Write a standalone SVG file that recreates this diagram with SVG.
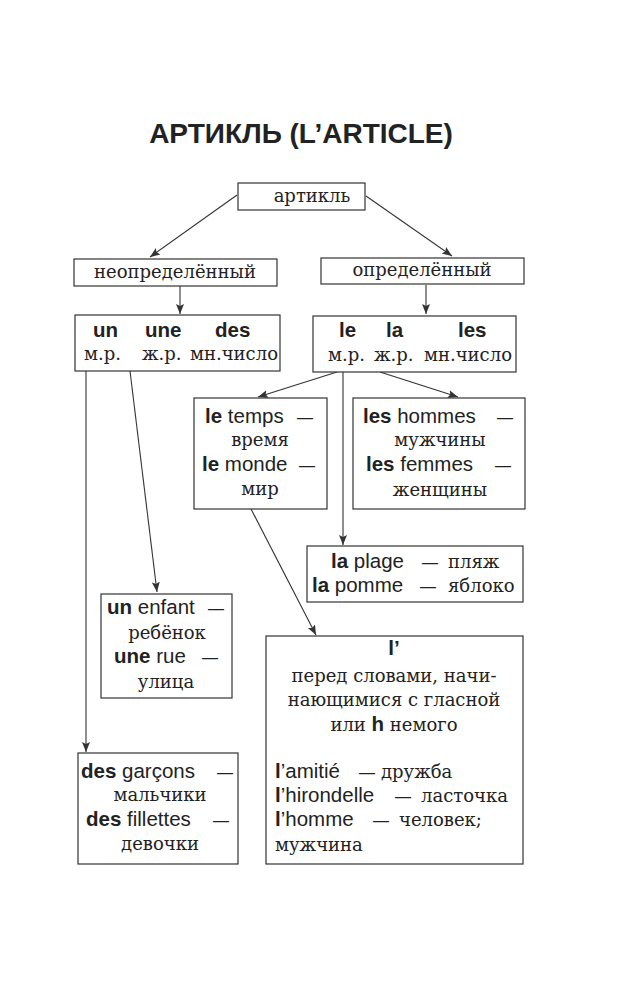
<svg xmlns="http://www.w3.org/2000/svg" width="618" height="1000" viewBox="0 0 618 1000">
<style>
.box{fill:#fff;stroke:#333;stroke-width:1.2}
.s{font-family:"Liberation Sans",Arial,sans-serif;font-size:20.5px;fill:#222}
.r{font-family:"DejaVu Serif","Liberation Serif",serif;font-size:18px;fill:#222}
.b{font-weight:bold}
.c{text-anchor:middle}
.d{font-size:16px}
.ln{stroke:#333;stroke-width:1.1;fill:none;marker-end:url(#ah)}
</style>
<defs>
<marker id="ah" viewBox="0 0 10 10" refX="10" refY="5" markerWidth="10" markerHeight="10" markerUnits="userSpaceOnUse" orient="auto">
<path d="M0,1 L10,5 L0,9 L2,5 Z" fill="#333"/>
</marker>
</defs>
<rect width="618" height="1000" fill="#fff"/>
<text x="301" y="143" class="s b c" style="font-size:28px">АРТИКЛЬ (L’ARTICLE)</text>
<g id="connectors">
<line class="ln" x1="237" y1="195" x2="150" y2="257"/>
<line class="ln" x1="366" y1="196" x2="452" y2="256"/>
<line class="ln" x1="180" y1="286" x2="180" y2="314"/>
<line class="ln" x1="426" y1="285" x2="426" y2="314"/>
<line class="ln" x1="130" y1="371" x2="157" y2="592"/>
<line class="ln" x1="86" y1="371" x2="86" y2="752"/>
<line class="ln" x1="337" y1="372" x2="258" y2="397"/>
<line class="ln" x1="380" y1="372" x2="458" y2="397"/>
<line class="ln" x1="343" y1="372" x2="343" y2="545"/>
<line class="ln" x1="251" y1="509" x2="316" y2="635"/>
</g>
<g id="n-article">
<rect class="box" x="238" y="183" width="127" height="27"/>
<text x="312" y="202" class="r c">артикль</text>
</g>
<g id="n-indef">
<rect class="box" x="74" y="259" width="203" height="27"/>
<text x="175" y="278" class="r c">неопределённый</text>
</g>
<g id="n-def">
<rect class="box" x="321" y="258" width="203" height="26"/>
<text x="422" y="276" class="r c">определённый</text>
</g>
<g id="n-unune">
<rect class="box" x="75" y="315" width="205" height="56"/>
<text y="337" class="s b"><tspan x="93">un</tspan><tspan x="145">une</tspan><tspan x="215">des</tspan></text>
<text y="360" class="r"><tspan x="84">м.р.</tspan><tspan x="142">ж.р.</tspan><tspan x="190">мн.число</tspan></text>
</g>
<g id="n-lelales">
<rect class="box" x="313" y="316" width="203" height="56"/>
<text y="337" class="s b"><tspan x="339">le</tspan><tspan x="386">la</tspan><tspan x="458">les</tspan></text>
<text y="361" class="r"><tspan x="328">м.р.</tspan><tspan x="374">ж.р.</tspan><tspan x="424">мн.число</tspan></text>
</g>
<g id="n-letemps">
<rect class="box" x="194" y="398" width="133" height="111"/>
<text x="205" y="423" class="s"><tspan class="b">le</tspan> temps<tspan x="297" class="d">—</tspan></text>
<text x="260" y="446" class="r c">время</text>
<text x="202" y="471" class="s"><tspan class="b">le</tspan> monde<tspan x="299" class="d">—</tspan></text>
<text x="260" y="495" class="r c">мир</text>
</g>
<g id="n-leshommes">
<rect class="box" x="353" y="398" width="172" height="111"/>
<text x="363" y="423" class="s"><tspan class="b">les</tspan> hommes<tspan x="497" class="d">—</tspan></text>
<text x="440" y="446" class="r c">мужчины</text>
<text x="366" y="471" class="s"><tspan class="b">les</tspan> femmes<tspan x="495" class="d">—</tspan></text>
<text x="440" y="496" class="r c">женщины</text>
</g>
<g id="n-laplage">
<rect class="box" x="307" y="546" width="216" height="56"/>
<text x="331" y="568" class="s"><tspan class="b">la</tspan> plage<tspan x="422" class="d">—</tspan><tspan x="448" class="r">пляж</tspan></text>
<text x="312" y="592" class="s"><tspan class="b">la</tspan> pomme<tspan x="420" class="d">—</tspan><tspan x="448" class="r">яблоко</tspan></text>
</g>
<g id="n-unenfant">
<rect class="box" x="101" y="594" width="131" height="104"/>
<text x="107" y="614" class="s"><tspan class="b">un</tspan> enfant<tspan x="208" class="d">—</tspan></text>
<text x="167" y="639" class="r c">ребёнок</text>
<text x="114" y="663" class="s"><tspan class="b">une</tspan> rue<tspan x="202" class="d">—</tspan></text>
<text x="166" y="688" class="r c">улица</text>
</g>
<g id="n-desgarcons">
<rect class="box" x="78" y="753" width="160" height="111"/>
<text x="81" y="778" class="s"><tspan class="b">des</tspan> garçons<tspan x="217" class="d">—</tspan></text>
<text x="160" y="801" class="r c">мальчики</text>
<text x="86" y="826" class="s"><tspan class="b">des</tspan> fillettes<tspan x="213" class="d">—</tspan></text>
<text x="160" y="850" class="r c">девочки</text>
</g>
<g id="n-lapos">
<rect class="box" x="266" y="636" width="257" height="228"/>
<text x="394" y="655" class="s b c">l’</text>
<text x="394" y="682" class="r c">перед словами, начи-</text>
<text x="394" y="706" class="r c">нающимися с гласной</text>
<text x="394" y="731" class="r c">или <tspan class="s b">h</tspan> немого</text>
<text x="275" y="778" class="s"><tspan class="b">l</tspan>’amitié<tspan x="359" class="d">—</tspan><tspan x="381" class="r">дружба</tspan></text>
<text x="275" y="802" class="s"><tspan class="b">l</tspan>’hirondelle<tspan x="395" class="d">—</tspan><tspan x="421" class="r">ласточка</tspan></text>
<text x="275" y="826" class="s"><tspan class="b">l</tspan>’homme<tspan x="373" class="d">—</tspan><tspan x="399" class="r">человек;</tspan></text>
<text x="275" y="851" class="r">мужчина</text>
</g>
</svg>
